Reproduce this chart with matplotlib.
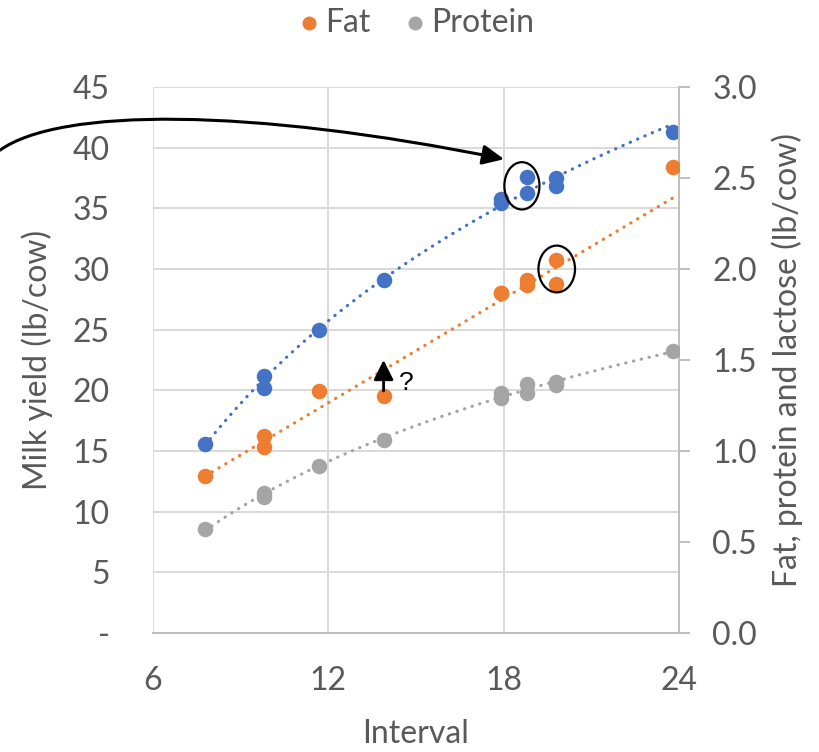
import numpy as np
import matplotlib.pyplot as plt
from matplotlib.patches import Ellipse, FancyArrowPatch
from matplotlib.path import Path
from matplotlib.ticker import FuncFormatter, MultipleLocator

plt.rcParams['font.family'] = ['Lato', 'DejaVu Sans']

# values
interval = [7.8, 9.8, 9.8, 11.7, 13.9, 17.9, 17.9, 18.8, 18.8, 19.8, 19.8]
milk = [15.6, 21.2, 20.2, 25.0, 29.1, 35.4, 35.8, 37.6, 36.3, 37.5, 36.8]
fat = [0.86, 1.08, 1.02, 1.33, 1.30, 1.87, 1.87, 1.94, 1.91, 2.05, 1.92]
protein = [0.57, 0.75, 0.77, 0.92, 1.06, 1.29, 1.32, 1.32, 1.37, 1.36, 1.38]

# 24 h point
interval_24 = [23.8]
milk_24 = [41.3]
fat_24 = [2.56]
protein_24 = [1.55]

BLUE = '#4472C4'
ORANGE = '#ED7D31'
GRAY = '#A5A5A5'
TXT = '#595959'
GRID = '#D9D9D9'
FS = 23

fig = plt.figure(figsize=(8.19, 7.52), dpi=100)
fig.subplots_adjust(left=152.5/819, right=679/819, bottom=1-633/752, top=1-87/752)
ax = fig.add_subplot(111)
ax2 = ax.twinx()

x_all = np.array(interval + interval_24)
xx = np.linspace(min(interval), max(interval_24), 100)

# trendlines: log for milk and protein, linear for fat (fat fit leaves out 24 h)
b_milk = np.polyfit(np.log(x_all), milk + milk_24, 1)
b_prot = np.polyfit(np.log(x_all), protein + protein_24, 1)
b_fat = np.polyfit(interval, fat, 1)
dot = dict(linestyle=(0, (0.1, 2.4)), dash_capstyle='round', lw=2.3)
ax.plot(xx, np.polyval(b_milk, np.log(xx)), color=BLUE, **dot)
ax2.plot(xx, np.polyval(b_fat, xx), color=ORANGE, **dot)
ax2.plot(xx, np.polyval(b_prot, np.log(xx)), color=GRAY, **dot)

ax.scatter(x_all, milk + milk_24, s=125, color=BLUE, lw=0, zorder=3)
ax2.scatter(x_all, fat + fat_24, s=125, color=ORANGE, lw=0, zorder=3, label='Fat')
ax2.scatter(x_all, protein + protein_24, s=125, color=GRAY, lw=0, zorder=3, label='Protein')

ax.set_xlim(6, 24)
ax.set_ylim(0, 45)
ax2.set_ylim(0, 3.0)
ax.xaxis.set_major_locator(MultipleLocator(6))
ax.yaxis.set_major_locator(MultipleLocator(5))
ax2.yaxis.set_major_locator(MultipleLocator(0.5))
ax.yaxis.set_major_formatter(FuncFormatter(lambda v, p: '-' if v == 0 else '%d' % v))
ax2.yaxis.set_major_formatter(FuncFormatter(lambda v, p: '%.1f' % v))

ax.grid(True, color=GRID, lw=1.4)
ax.set_axisbelow(True)
for a in (ax, ax2):
    for s in ('top', 'left'):
        a.spines[s].set_visible(False)
    a.spines['bottom'].set_color('#BFBFBF')
    a.spines['bottom'].set_linewidth(1.4)
    a.spines['right'].set_color('#BFBFBF')
    a.spines['right'].set_linewidth(1.4)
ax.spines['right'].set_visible(False)

ax.tick_params(axis='x', length=0, pad=24, labelsize=FS, colors=TXT)
ax.tick_params(axis='y', length=0, pad=31, labelsize=FS, colors=TXT)
ax2.tick_params(axis='y', length=8, width=1.4, color='#BFBFBF', pad=16, labelsize=FS, labelcolor=TXT)

ax.set_xlabel('Interval', fontsize=FS, color=TXT, labelpad=16)
ax.set_ylabel('Milk yield (lb/cow)', fontsize=FS, color=TXT, labelpad=14)
ax2.set_ylabel('Fat, protein and lactose (lb/cow)', fontsize=FS, color=TXT, labelpad=10)

fig.legend(loc='upper center', bbox_to_anchor=(0.505, 1.028), ncol=2, frameon=False,
           fontsize=FS, handletextpad=0.0, handlelength=1.0, columnspacing=0.9,
           markerscale=0.9, labelcolor=TXT)

# annotations
ax2.add_patch(Ellipse((18.63, 2.457), 1.2, 0.26, fill=False, ec='black', lw=1.6, zorder=5))
ax2.add_patch(Ellipse((19.82, 2.0), 1.25, 0.257, fill=False, ec='black', lw=1.6, zorder=5))

ax2.annotate('', xy=(13.9, 1.50), xytext=(13.9, 1.33),
             arrowprops=dict(arrowstyle='-|>,head_length=0.6,head_width=0.3', color='black',
                             lw=2, mutation_scale=20, shrinkA=0, shrinkB=0))
ax2.text(14.68, 1.372, '?', fontsize=19, family='Liberation Sans', va='center', ha='center')

verts = [(0.79, 39.8), (2.84, 43.3), (9.33, 43.3), (18.02, 39.05)]
curve = FancyArrowPatch(path=Path(verts, [Path.MOVETO, Path.CURVE4, Path.CURVE4, Path.CURVE4]),
                        arrowstyle='-|>,head_length=0.65,head_width=0.3', mutation_scale=20,
                        color='black', lw=2.2, transform=ax.transData, clip_on=False, zorder=6)
ax.add_patch(curve)

plt.savefig('out.png', dpi=100)
